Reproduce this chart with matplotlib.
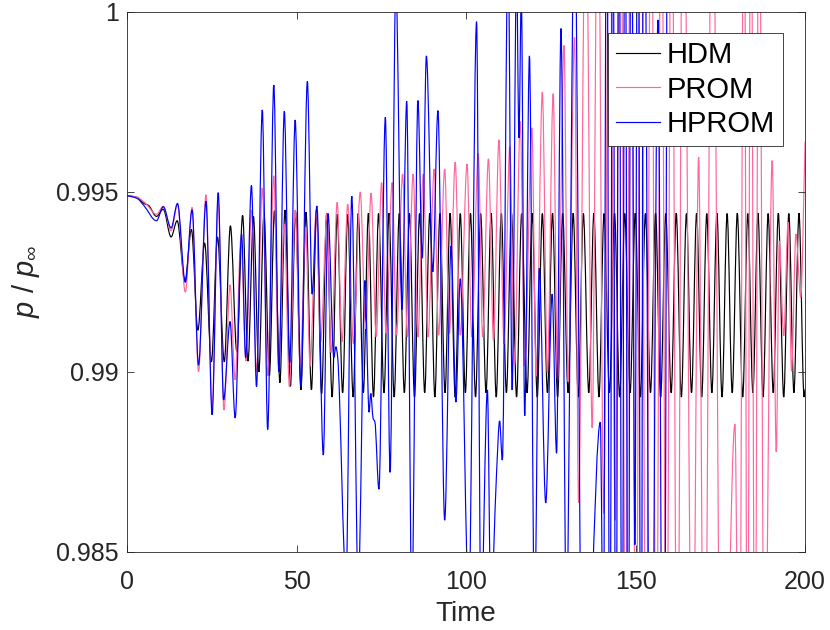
import numpy as np
import matplotlib
matplotlib.use("Agg")
import matplotlib.pyplot as plt
from matplotlib.path import Path
from matplotlib.patches import PathPatch
from matplotlib.lines import Line2D

# ---------------------------------------------------------------------------
# Data (extrema of each signal)
# ---------------------------------------------------------------------------

# HDM: start-up transient, then a steady limit cycle
hdm_start_t = [0.0, 3.0, 5.0, 6.3, 8.7, 10.7, 13.0, 14.8, 17.1, 19.0, 20.9,
               22.9, 24.9, 26.7, 28.7, 30.5, 32.4]
hdm_start_v = [0.99490, 0.99485, 0.99468, 0.99463, 0.99432, 0.99452, 0.99375,
               0.99420, 0.99252, 0.99396, 0.99116, 0.99358, 0.99028, 0.99375,
               0.99028, 0.99406, 0.99055]

hdm_peak_t = [34.1, 37.3, 40.4, 43.5, 46.6, 49.7, 52.8, 55.9, 58.9, 62.0,
              65.1, 68.2, 71.2, 74.2, 77.3, 80.3, 83.3, 86.3, 89.3, 92.3,
              95.3, 98.3, 101.3, 104.3, 107.4, 110.4, 113.4, 116.4, 119.5, 122.5,
              125.5, 128.5, 131.6, 134.6, 137.7, 140.7, 143.8, 146.8, 149.9, 152.9,
              155.9, 158.9, 162.0, 165.0, 168.0, 171.0, 174.0, 177.0, 180.0, 183.1,
              186.1, 189.1, 192.1, 195.2, 198.2]
hdm_peak_v = [0.99435, 0.99432, 0.99442, 0.99448, 0.99450, 0.99446, 0.99444, 0.99446, 0.99440, 0.99438,
              0.99438, 0.99440, 0.99441, 0.99440, 0.99441, 0.99440, 0.99441, 0.99440, 0.99441, 0.99440,
              0.99441, 0.99440, 0.99441, 0.99440, 0.99441, 0.99440, 0.99441, 0.99440, 0.99441, 0.99440,
              0.99441, 0.99440, 0.99441, 0.99440, 0.99441, 0.99440, 0.99441, 0.99440, 0.99441, 0.99440,
              0.99441, 0.99440, 0.99441, 0.99440, 0.99441, 0.99440, 0.99441, 0.99440, 0.99441, 0.99440,
              0.99441, 0.99440, 0.99441, 0.99440, 0.99441]

hdm_trough_t = [35.7, 38.9, 42.0, 45.1, 48.2, 51.3, 54.4, 57.4, 60.5, 63.6,
                66.7, 69.7, 72.7, 75.8, 78.8, 81.8, 84.8, 87.8, 90.8, 93.8,
                96.8, 99.8, 102.8, 105.9, 108.9, 111.9, 114.9, 118.0, 121.0, 124.0,
                127.0, 130.1, 133.1, 136.2, 139.2, 142.3, 145.3, 148.4, 151.4, 154.4,
                157.4, 160.5, 163.5, 166.5, 169.5, 172.5, 175.5, 178.5, 181.6, 184.6,
                187.6, 190.6, 193.7, 196.7, 199.7, 200.0]
hdm_trough_v = [0.99030, 0.99000, 0.98990, 0.98970, 0.98960, 0.98950, 0.98950, 0.98940, 0.98930, 0.98942,
                0.98930, 0.98942, 0.98930, 0.98942, 0.98930, 0.98942, 0.98930, 0.98942, 0.98930, 0.98942,
                0.98930, 0.98942, 0.98930, 0.98942, 0.98930, 0.98942, 0.98930, 0.98942, 0.98930, 0.98942,
                0.98930, 0.98942, 0.98930, 0.98942, 0.98930, 0.98942, 0.98930, 0.98942, 0.98930, 0.98942,
                0.98930, 0.98942, 0.98930, 0.98942, 0.98930, 0.98942, 0.98930, 0.98942, 0.98930, 0.98942,
                0.98930, 0.98942, 0.98930, 0.98942, 0.98930, 0.98952]

# PROM
prom_t = [0.0, 3.0, 5.5, 8.7, 10.7, 13.0, 14.9, 17.2, 19.2, 21.1,
          23.3, 25.1, 26.9, 28.6, 30.4, 31.9, 33.6, 35.1, 36.7, 38.2,
          39.9, 41.5, 43.3, 44.7, 46.4, 47.9, 49.6, 51.1, 52.7, 54.0,
          55.8, 57.1, 59.0, 60.2, 62.0, 63.4, 65.1, 66.8, 68.8, 70.4,
          72.0, 73.5, 75.1, 76.4, 78.2, 79.5, 81.3, 82.7, 84.4, 85.8,
          87.4, 88.8, 90.6, 91.9, 93.7, 95.1, 96.8, 98.3, 100.3, 101.7,
          103.6, 104.9, 106.6, 108.1, 109.7, 111.2, 112.9, 114.3, 116.0, 117.3,
          119.4, 120.7, 122.5, 124.0, 125.7, 127.0, 128.9, 130.1, 132.0, 133.2,
          135.3, 137.2, 138.9, 140.6, 142.3, 144.0, 145.6, 147.1, 148.6, 150.1,
          151.6, 153.1, 154.6, 156.1, 157.6, 159.1, 160.6, 162.3, 164.0, 166.8,
          168.6, 170.3, 172.6, 175.5, 179.3, 180.6, 182.0, 183.0, 184.0, 185.2,
          186.4, 188.0, 190.3, 191.5, 192.4, 193.7, 195.0, 196.0, 197.3, 198.7,
          200.0]
prom_v = [0.99490, 0.99485, 0.99468, 0.99438, 0.99460, 0.99392, 0.99465, 0.99222, 0.99457, 0.99001,
          0.99492, 0.98900, 0.99470, 0.98894, 0.99242, 0.98978, 0.99370, 0.99030, 0.99450, 0.99000,
          0.99511, 0.98990, 0.99545, 0.99016, 0.99411, 0.98959, 0.99450, 0.99020, 0.99402, 0.99016,
          0.99450, 0.99083, 0.99440, 0.99054, 0.99471, 0.99083, 0.99466, 0.99078, 0.99500, 0.99120,
          0.99497, 0.99097, 0.99526, 0.99107, 0.99526, 0.99102, 0.99550, 0.99097, 0.99550, 0.99097,
          0.99550, 0.99097, 0.99564, 0.99102, 0.99564, 0.99107, 0.99583, 0.99102, 0.99578, 0.99097,
          0.99607, 0.99097, 0.99592, 0.99088, 0.99645, 0.99078, 0.99626, 0.99021, 0.99697, 0.99016,
          0.99678, 0.98988, 0.99778, 0.98997, 0.99773, 0.98978, 0.99907, 0.98973, 0.99930, 0.98636,
          1.00400, 0.98845, 1.00500, 0.98607, 1.00500, 0.98588, 1.00600, 0.98000, 1.00600, 0.97900,
          1.00600, 0.97900, 1.00700, 0.97900, 1.00700, 0.97800, 1.00700, 0.97800, 1.00700, 0.97900,
          0.99597, 0.97800, 1.00600, 0.97600, 0.98855, 0.97800, 1.00700, 0.97800, 1.00700, 0.97900,
          1.00600, 0.98000, 0.99587, 0.98778, 0.99364, 0.99100, 0.99416, 0.99002, 0.99383, 0.99207,
          0.99640]

# HPROM (diverges after t ~ 160)
hprom_t = [0.0, 3.0, 5.0, 8.7, 10.7, 13.0, 14.9, 17.2, 19.2, 21.1,
           23.3, 25.1, 26.9, 28.5, 30.4, 31.9, 33.8, 35.0, 36.7, 38.2,
           39.9, 41.5, 43.3, 44.8, 46.4, 48.0, 49.6, 51.3, 53.2, 54.6,
           56.0, 57.9, 59.3, 61.0, 61.6, 62.1, 64.6, 66.3, 68.2, 70.2,
           71.4, 71.9, 72.6, 73.1, 74.3, 76.2, 77.6, 79.3, 81.1, 82.5,
           84.0, 85.8, 87.1, 88.3, 90.2, 91.7, 93.7, 95.6, 97.0, 98.3,
           100.8, 103.1, 104.4, 106.3, 107.3, 109.0, 109.9, 110.7, 112.4, 113.6,
           114.9, 115.6, 116.3, 117.3, 118.7, 120.2, 121.6, 123.5, 125.4, 126.7,
           128.0, 129.6, 132.0, 134.5, 139.6, 140.5, 141.5, 142.4, 143.3, 144.2,
           145.1, 146.0, 146.9, 147.8, 148.7, 149.8, 150.7, 151.6, 152.4, 154.5,
           156.6, 158.2, 160.0]
hprom_v = [0.99490, 0.99482, 0.99462, 0.99420, 0.99459, 0.99400, 0.99468, 0.99249, 0.99450, 0.99019,
           0.99474, 0.98881, 0.99498, 0.98922, 0.99140, 0.98872, 0.99383, 0.99040, 0.99518, 0.98959,
           0.99728, 0.98840, 0.99797, 0.99000, 0.99724, 0.99026, 0.99700, 0.98960, 0.99807, 0.99216,
           0.99461, 0.98769, 0.99440, 0.99040, 0.99070, 0.99045, 0.98420, 0.99488, 0.98400, 0.99254,
           0.98888, 0.98940, 0.98870, 0.98862, 0.98674, 0.99707, 0.98721, 1.00080, 0.99173, 0.99752,
           0.98350, 0.99754, 0.99316, 0.99878, 0.99278, 0.99726, 0.98588, 0.99350, 0.98916, 0.99259,
           0.98350, 0.99973, 0.98300, 0.98950, 0.98350, 0.98720, 0.98864, 0.98755, 1.00200, 0.98950,
           1.00120, 0.99650, 1.00050, 0.98878, 0.99878, 0.98300, 0.99288, 0.98636, 0.99216, 0.98774,
           0.99954, 0.98300, 1.00300, 0.97800, 0.98860, 0.98200, 1.00600, 0.97900, 1.00600, 0.97800,
           1.00700, 0.97800, 1.00700, 0.97700, 1.00700, 0.98520, 1.00800, 0.97600, 1.00800, 0.97500,
           0.99978, 0.97500, 1.03000]

series_names = ["HDM", "PROM", "HPROM"]
series_colors = ["#000000", "#ff6699", "#0000ff"]


# ---------------------------------------------------------------------------
# Helpers
# ---------------------------------------------------------------------------


def hermite_path(t, v):
    """Smooth Bezier path through the given extrema (monotone cubic tangents)."""
    t = np.asarray(t, float)
    v = np.asarray(v, float)
    h = np.diff(t)
    d = np.diff(v) / h
    m = np.zeros_like(v)
    for i in range(1, len(v) - 1):
        if d[i - 1] * d[i] > 0:
            m[i] = 2.0 / (1.0 / d[i - 1] + 1.0 / d[i])
    m[0] = d[0]
    m[-1] = d[-1]
    verts = [(t[0], v[0])]
    codes = [Path.MOVETO]
    for i in range(len(h)):
        verts.append((t[i] + h[i] / 3, v[i] + m[i] * h[i] / 3))
        verts.append((t[i + 1] - h[i] / 3, v[i + 1] - m[i + 1] * h[i] / 3))
        verts.append((t[i + 1], v[i + 1]))
        codes += [Path.CURVE4] * 3
    return Path(verts, codes)


def merged(*pairs):
    t = np.concatenate([np.asarray(p[0], float) for p in pairs])
    v = np.concatenate([np.asarray(p[1], float) for p in pairs])
    order = np.argsort(t, kind="stable")
    return t[order], v[order]


# ---------------------------------------------------------------------------
# Figure
# ---------------------------------------------------------------------------

plt.rcParams["font.family"] = ["Liberation Sans", "DejaVu Sans"]
plt.rcParams["mathtext.fontset"] = "custom"
plt.rcParams["mathtext.rm"] = "Liberation Sans"
plt.rcParams["mathtext.it"] = "Liberation Sans:italic"

axis_color = "#262626"

fig = plt.figure(figsize=(8.3, 6.3), dpi=100)
ax = fig.add_axes([0.153, 0.124, 0.817, 0.857])

hdm_t, hdm_v = merged((hdm_start_t, hdm_start_v), (hdm_peak_t, hdm_peak_v),
                      (hdm_trough_t, hdm_trough_v))

curves = [(hdm_t, hdm_v), (prom_t, prom_v), (hprom_t, hprom_v)]
handles = []
for (t, v), name, color in zip(curves, series_names, series_colors):
    ax.add_patch(PathPatch(hermite_path(t, v), facecolor="none", edgecolor=color,
                           linewidth=0.85))
    handles.append(Line2D([], [], color=color, linewidth=0.85, label=name))

ax.set_xlim(0, 200)
ax.set_ylim(0.985, 1.0)
ax.set_xticks([0, 50, 100, 150, 200])
ax.set_yticks([0.985, 0.99, 0.995, 1.0])
ax.set_yticklabels(["0.985", "0.99", "0.995", "1"])

ax.tick_params(direction="in", top=True, right=True, length=5, width=0.6,
               labelsize=18, colors=axis_color, labelcolor=axis_color)
ax.tick_params(axis="x", pad=13)
ax.tick_params(axis="y", pad=6)
for spine in ax.spines.values():
    spine.set_color(axis_color)
    spine.set_linewidth(0.6)

ax.set_xlabel("Time", fontsize=20, color=axis_color, labelpad=5)
ax.set_ylabel(r"$p$ / $p_{\infty}$", fontsize=21, color=axis_color, labelpad=10)

leg = ax.legend(handles=handles, loc="upper right", bbox_to_anchor=(0.968, 0.961),
                borderaxespad=0, fontsize=21, frameon=True, fancybox=False,
                framealpha=1, edgecolor=axis_color, handlelength=1.5,
                handletextpad=0.25, labelspacing=0.22, borderpad=0.28)
leg.get_frame().set_linewidth(0.6)

fig.savefig("out.png", dpi=100)
